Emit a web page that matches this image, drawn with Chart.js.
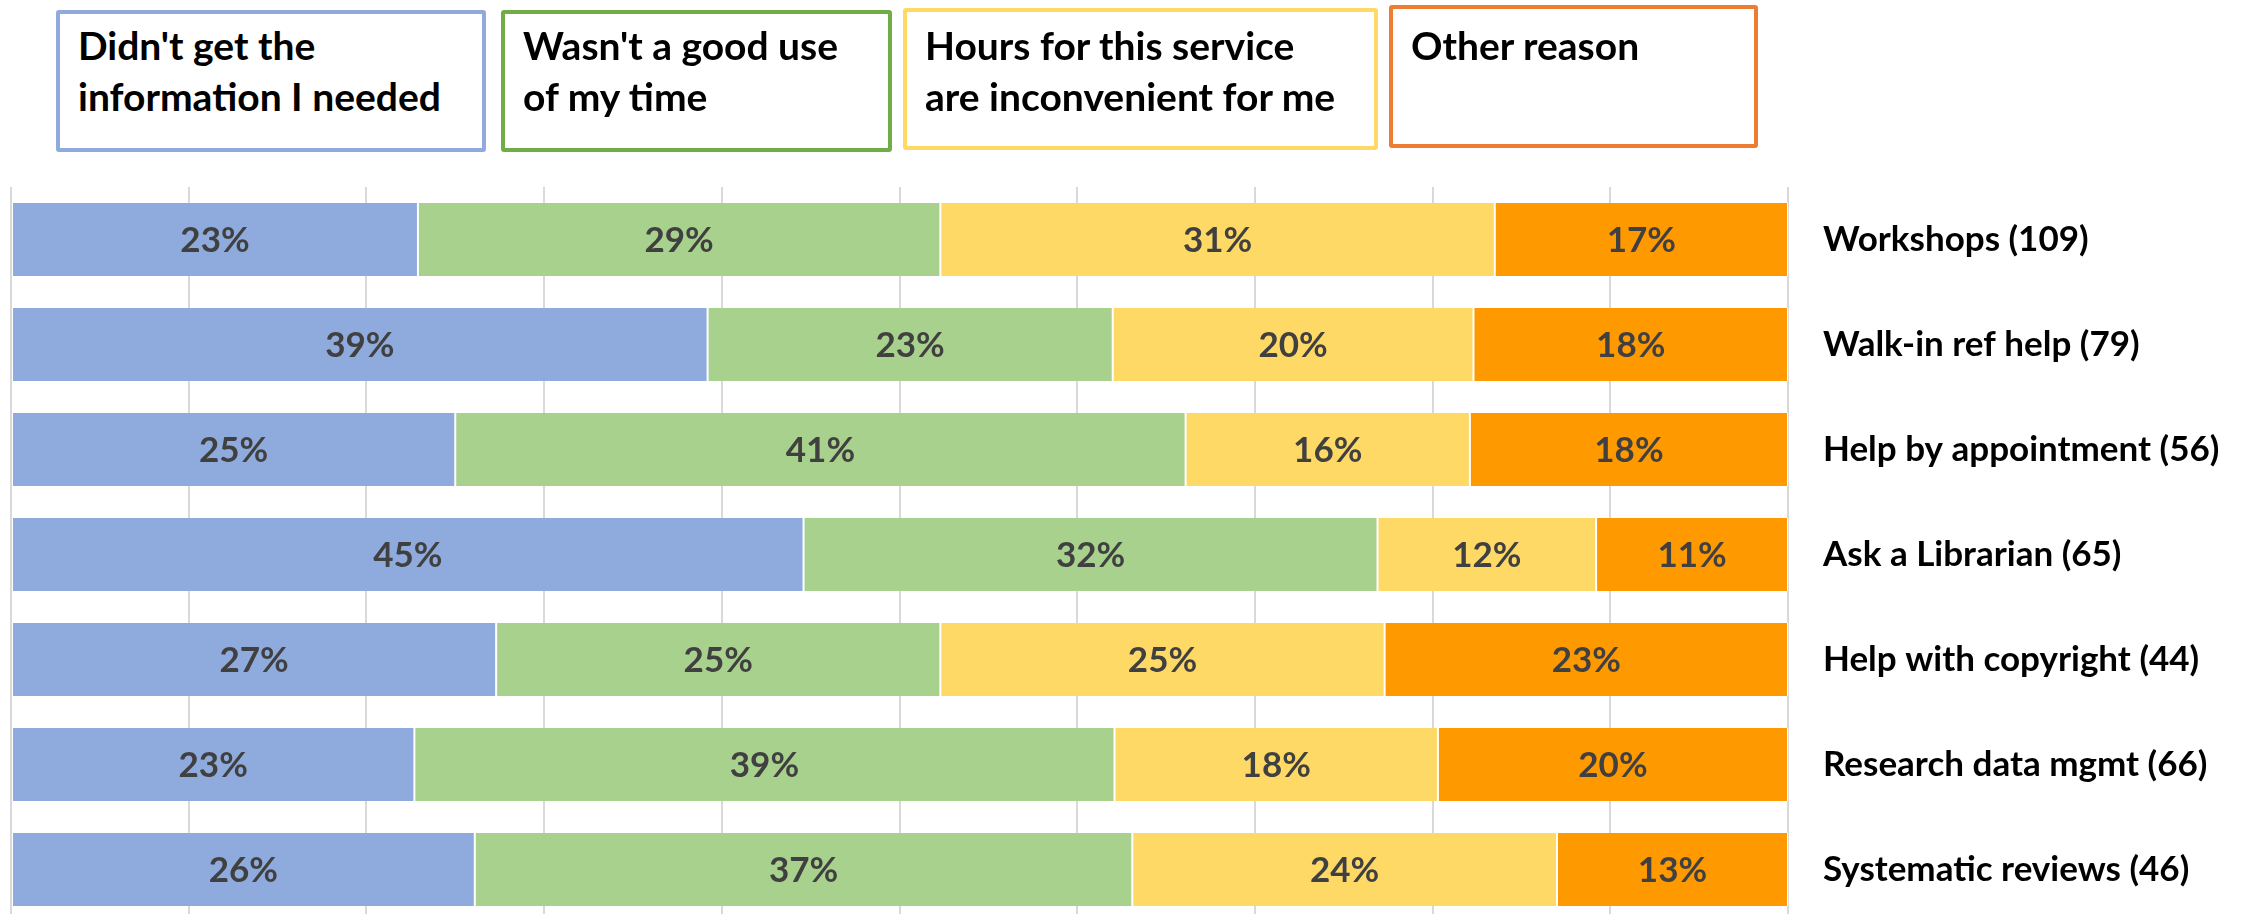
<!DOCTYPE html>
<html>
<head>
    <script src="https://cdn.jsdelivr.net/npm/chart.js@4.4.0/dist/chart.umd.min.js"></script>
    <style>
        html, body { margin: 0; padding: 0; background: #fff; overflow: hidden; width: 2246px; height: 914px; }
        #reasonsChart { position: absolute; left: 0; top: 0; }
        .legend-box {
            position: absolute; box-sizing: border-box; border: 4px solid; border-radius: 3px;
            background: #fff; padding-left: 18px; white-space: pre-line;
            font-family: Lato, sans-serif; font-weight: bold; font-size: 39px; line-height: 51px; color: #000;
        }
    </style>
</head>
<body>
    <canvas id="reasonsChart" width="2246" height="922"></canvas>
    <div id="legend"></div>

    <script>
        const services = ['Workshops (109)', 'Walk-in ref help (79)', 'Help by appointment (56)', 'Ask a Librarian (65)',
                          'Help with copyright (44)', 'Research data mgmt (66)', 'Systematic reviews (46)'];
        const seriesNames = ["Didn't get the\ninformation I needed", "Wasn't a good use\nof my time",
                             "Hours for this service\nare inconvenient for me", "Other reason"];
        // shares in percent
        const didntGetInfo = [22.9, 39.2, 25.0, 44.6, 27.3, 22.7, 26.1];
        const notGoodUse = [29.4, 22.8, 41.1, 32.3, 25.0, 39.4, 37.0];
        const hoursInconvenient = [31.2, 20.3, 16.0, 12.3, 25.0, 18.2, 23.9];
        const otherReason = [16.5, 17.7, 17.9, 10.8, 22.7, 19.7, 13.0];

        const fills = ['#8FAADC', '#A9D18E', '#FFD966', '#FF9900'];
        const legendBorders = ['#8FAADC', '#70AD47', '#FFD966', '#ED7D31'];
        // legend box placement: left, top, width, height
        const boxPos = [[56, 10, 430, 142], [501, 10, 391, 142], [903, 8, 475, 142], [1389, 5, 369, 143]];

        // legend boxes
        const legend = document.getElementById('legend');
        seriesNames.forEach((name, i) => {
            const d = document.createElement('div');
            d.className = 'legend-box';
            const p = boxPos[i];
            d.style.left = p[0] + 'px';
            d.style.top = p[1] + 'px';
            d.style.width = p[2] + 'px';
            d.style.height = p[3] + 'px';
            d.style.paddingTop = Math.max(0, 61 - p[1] - 4 - 41) + 'px';
            d.style.borderColor = legendBorders[i];
            d.textContent = name;
            legend.appendChild(d);
        });

        // percent labels inside segments
        const barLabels = {
            id: 'barLabels',
            afterDatasetsDraw(chart) {
                const ctx = chart.ctx;
                ctx.save();
                ctx.font = 'bold 35px Lato';
                ctx.fillStyle = '#404040';
                ctx.textAlign = 'center';
                ctx.textBaseline = 'middle';
                chart.data.datasets.forEach((ds, i) => {
                    chart.getDatasetMeta(i).data.forEach((bar, j) => {
                        ctx.fillText(Math.round(ds.data[j]) + '%', (bar.x + bar.base) / 2, bar.y + 1);
                    });
                });
                ctx.restore();
            }
        };

        const seriesData = [didntGetInfo, notGoodUse, hoursInconvenient, otherReason];

        new Chart(document.getElementById('reasonsChart'), {
            type: 'bar',
            data: {
                labels: services,
                datasets: seriesData.map((vals, i) => ({
                    label: seriesNames[i].replace('\n', ' '),
                    data: vals,
                    backgroundColor: fills[i],
                    borderColor: '#ffffff',
                    borderWidth: { left: 1, right: 1, top: 0, bottom: 0 },
                    borderSkipped: false,
                    categoryPercentage: 1,
                    barPercentage: 0.695
                }))
            },
            options: {
                indexAxis: 'y',
                responsive: false,
                animation: false,
                layout: { padding: { top: 187, left: 11, right: 0, bottom: 0 } },
                plugins: {
                    legend: { display: false },
                    tooltip: { enabled: false }
                },
                scales: {
                    x: {
                        stacked: true,
                        min: 0,
                        max: 100,
                        ticks: { display: false, stepSize: 10 },
                        grid: { color: '#d9d9d9', lineWidth: 2, drawTicks: false },
                        border: { display: false },
                        afterFit(scale) { scale.height = 0; }
                    },
                    y: {
                        stacked: true,
                        position: 'right',
                        grid: { display: false, drawTicks: false },
                        border: { display: false },
                        ticks: {
                            color: '#000',
                            padding: 35,
                            crossAlign: 'near',
                            font: { family: 'Lato', weight: 'bold', size: 35 }
                        },
                        afterFit(scale) {
                            scale.width = 458;
                            scale.paddingTop = 0;
                            scale.paddingBottom = 0;
                        }
                    }
                }
            },
            plugins: [barLabels]
        });
    </script>
</body>
</html>
